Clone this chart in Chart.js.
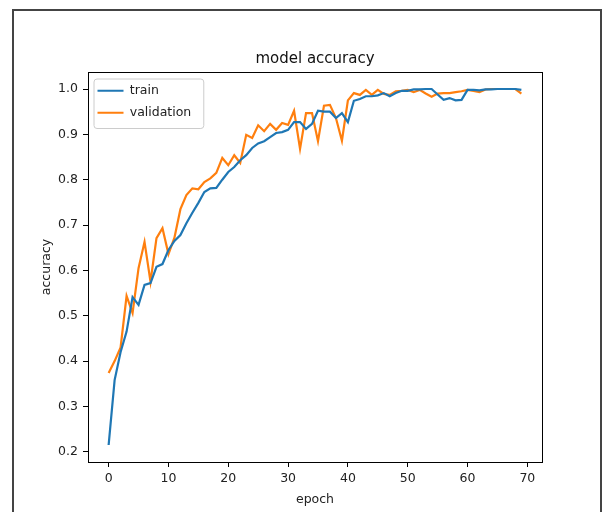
<!DOCTYPE html>
<html>
<head>
<meta charset="utf-8">
<script src="https://cdn.jsdelivr.net/npm/chart.js@4.4.0/dist/chart.umd.min.js"></script>
<style>
  body { margin: 0; background: #fff; overflow: hidden; }
  #frame { position: absolute; left: 12px; top: 9px; width: 586px; height: 600px; border: 2px solid #444; }
  #mycanvas { position: absolute; left: 0; top: 0; }
</style>
</head>
<body>
<div id="frame"></div>
<canvas id="mycanvas" width="602" height="512"></canvas>
<script>
var epochs = [0, 1, 2, 3, 4, 5, 6, 7, 8, 9, 10, 11, 12, 13, 14, 15, 16, 17, 18, 19,
  20, 21, 22, 23, 24, 25, 26, 27, 28, 29, 30, 31, 32, 33, 34, 35, 36, 37, 38, 39,
  40, 41, 42, 43, 44, 45, 46, 47, 48, 49, 50, 51, 52, 53, 54, 55, 56, 57, 58, 59,
  60, 61, 62, 63, 64, 65, 66, 67, 68, 69];

var train = [0.215, 0.358, 0.420, 0.465, 0.541, 0.524, 0.568, 0.572, 0.608, 0.614,
  0.645, 0.665, 0.678, 0.704, 0.727, 0.749, 0.773, 0.781, 0.782, 0.800,
  0.817, 0.828, 0.843, 0.854, 0.870, 0.880, 0.885, 0.894, 0.903, 0.905,
  0.910, 0.927, 0.927, 0.912, 0.923, 0.952, 0.950, 0.950, 0.936, 0.947,
  0.927, 0.974, 0.978, 0.984, 0.984, 0.986, 0.991, 0.984, 0.991, 0.996,
  0.996, 0.999, 0.999, 1.000, 1.000, 0.988, 0.976, 0.980, 0.975, 0.976,
  0.998, 0.998, 0.997, 0.999, 0.999, 1.000, 1.000, 1.000, 1.000, 0.998];

var validation = [0.374, 0.400, 0.430, 0.544, 0.506, 0.605, 0.663, 0.575, 0.671, 0.693,
  0.636, 0.672, 0.735, 0.766, 0.781, 0.779, 0.795, 0.803, 0.815, 0.848,
  0.832, 0.854, 0.837, 0.899, 0.892, 0.920, 0.907, 0.923, 0.910, 0.925,
  0.921, 0.952, 0.868, 0.947, 0.947, 0.885, 0.963, 0.965, 0.936, 0.886,
  0.975, 0.991, 0.987, 0.998, 0.987, 0.998, 0.989, 0.987, 0.995, 0.996,
  0.998, 0.993, 0.998, 0.990, 0.983, 0.990, 0.991, 0.991, 0.993, 0.995,
  0.998, 0.996, 0.993, 0.999, 1.000, 1.000, 1.000, 1.000, 1.000, 0.990];

var xTicks = [0, 10, 20, 30, 40, 50, 60, 70];
var yTicks = [0.2, 0.3, 0.4, 0.5, 0.6, 0.7, 0.8, 0.9, 1.0];

function points(values) {
  var out = [];
  for (var i in values) {
    out.push({x: epochs[i], y: values[i]});
  }
  return out;
}

// legend frame and axes box, matplotlib style
var boxPlugin = {
  id: 'boxes',
  afterLayout: function(chart) {
    // a vertical legend in the chart area starts at top 0, move it inside the axes
    var lg = chart.legend;
    var h = lg.bottom - lg.top;
    lg.top = chart.chartArea.top + 3;
    lg.bottom = lg.top + h;
  },
  beforeDraw: function(chart) {
    var hb = chart.legend.legendHitBoxes;
    if (!hb || !hb.length) return;
    var ctx = chart.ctx;
    var right = 0;
    for (var i in hb) right = Math.max(right, hb[i].left + hb[i].width);
    var last = hb[hb.length - 1];
    var x0 = hb[0].left - 4, y0 = hb[0].top - 6;
    var x1 = right + 12, y1 = last.top + last.height + 9;
    ctx.save();
    ctx.beginPath();
    ctx.roundRect(x0 + 0.5, y0 + 0.5, x1 - x0, y1 - y0, 3);
    ctx.fillStyle = 'rgba(255,255,255,0.8)';
    ctx.fill();
    ctx.strokeStyle = '#cccccc';
    ctx.lineWidth = 1;
    ctx.stroke();
    ctx.restore();
  },
  afterDraw: function(chart) {
    var a = chart.chartArea;
    var ctx = chart.ctx;
    ctx.save();
    ctx.strokeStyle = '#000';
    ctx.lineWidth = 1;
    ctx.strokeRect(a.left + 0.5, a.top + 0.5, a.right - a.left, a.bottom - a.top);
    ctx.restore();
  }
};

Chart.defaults.font.family = 'DejaVu Sans';
Chart.defaults.color = '#222';

var ctx = document.getElementById('mycanvas');

var chart = new Chart(ctx, {
  type: 'line',
  data: {
    datasets: [
      {
        label: 'train',
        data: points(train),
        borderColor: '#1f77b4',
        backgroundColor: '#1f77b4',
        borderWidth: 2.2,
        pointRadius: 0,
        tension: 0
      },
      {
        label: 'validation',
        data: points(validation),
        borderColor: '#ff7f0e',
        backgroundColor: '#ff7f0e',
        borderWidth: 2.2,
        pointRadius: 0,
        tension: 0
      }
    ]
  },
  options: {
    responsive: false,
    animation: false,
    devicePixelRatio: 1,
    layout: { padding: { left: 0, right: 60, top: 0, bottom: 0 } },
    plugins: {
      title: {
        display: true,
        text: 'model accuracy',
        fullSize: false,
        color: '#111',
        font: { size: 15, weight: 'normal' },
        padding: { top: 50, bottom: 4 }
      },
      legend: {
        position: 'chartArea',
        align: 'start',
        labels: {
          boxWidth: 26,
          boxHeight: 0,
          padding: 9.5,
          color: '#222',
          font: { size: 12.5 }
        }
      },
      tooltip: { enabled: false }
    },
    scales: {
      x: {
        type: 'linear',
        min: -3.45,
        max: 72.45,
        afterBuildTicks: function(s) { s.ticks = xTicks.map(function(v) { return {value: v}; }); },
        afterFit: function(s) { s.height = 50; },
        grid: { display: true, drawOnChartArea: false, drawTicks: true, tickLength: 5, tickColor: '#000', color: '#000' },
        border: { display: false },
        ticks: { padding: 4, maxRotation: 0, autoSkip: false, font: { size: 12.5 },
          callback: function(v) { return v; } },
        title: { display: true, text: 'epoch', font: { size: 12.5 }, padding: { top: 0, bottom: 4.5 } }
      },
      y: {
        type: 'linear',
        min: 0.1775,
        max: 1.0375,
        afterBuildTicks: function(s) { s.ticks = yTicks.map(function(v) { return {value: v}; }); },
        afterFit: function(s) { s.width = 88; },
        grid: { display: true, drawOnChartArea: false, drawTicks: true, tickLength: 5, tickColor: '#000', color: '#000' },
        border: { display: false },
        ticks: { padding: 5, font: { size: 12.5 },
          callback: function(v) { return v.toFixed(1); } },
        title: { display: true, text: 'accuracy', font: { size: 12.5 }, padding: { top: 39.5, bottom: 0 } }
      }
    }
  },
  plugins: [boxPlugin]
});
</script>
</body>
</html>
